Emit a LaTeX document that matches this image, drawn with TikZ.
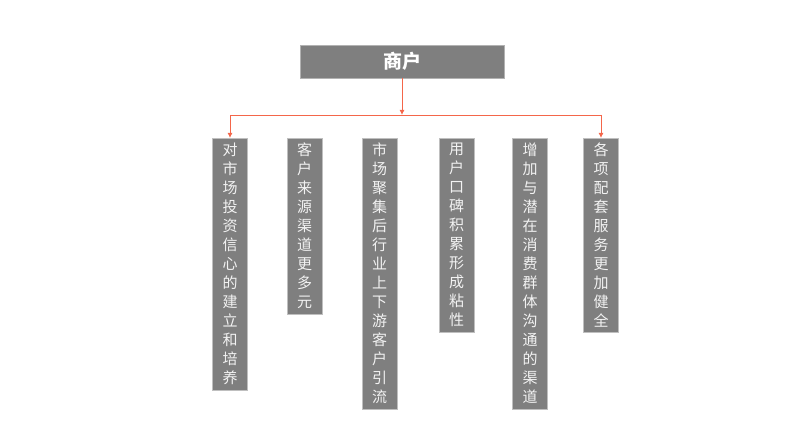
\documentclass[tikz,border=0pt]{standalone}
\usepackage{fontspec}
\newfontfamily\cjk{Noto Sans CJK SC}
\usepackage{tikz}
\usetikzlibrary{arrows.meta}

\definecolor{boxgray}{HTML}{7F7F7F}
\definecolor{linkred}{HTML}{F4664A}

\begin{document}
\begin{tikzpicture}[x=1pt,y=1pt,
    topbox/.style={fill=boxgray,draw=boxgray!60,text=white,minimum width=204pt,minimum height=33pt,font=\cjk\fontsize{19}{19}\selectfont\bfseries},
    itembox/.style={fill=boxgray,draw=boxgray!50,text=white!95!black,anchor=north,minimum width=35pt,inner xsep=0pt,inner ysep=5pt,align=center,font=\cjk\fontsize{15}{19}\selectfont},
    link/.style={linkred,line width=0.9pt},
    arr/.style={link,-{Latex[length=5pt,width=5pt]}}]
  \useasboundingbox (0,0) rectangle (800,446);
  \node[topbox] (shop) at (402,384.5) {商户};
  % six items under the shop
  \node[itembox] (b1) at (230,308) {对\\市\\场\\投\\资\\信\\心\\的\\建\\立\\和\\培\\养};
  \node[itembox] (b2) at (304.5,308) {客\\户\\来\\源\\渠\\道\\更\\多\\元};
  \node[itembox] (b3) at (379.5,308) {市\\场\\聚\\集\\后\\行\\业\\上\\下\\游\\客\\户\\引\\流};
  \node[itembox] (b4) at (456.5,308) {用\\户\\口\\碑\\积\\累\\形\\成\\粘\\性};
  \node[itembox] (b5) at (530,308) {增\\加\\与\\潜\\在\\消\\费\\群\\体\\沟\\通\\的\\渠\\道};
  \node[itembox] (b6) at (601,308) {各\\项\\配\\套\\服\\务\\更\\加\\健\\全};
  % connectors
  \coordinate (bus) at (402,331);
  \draw[arr] (shop) -- (bus);
  \draw[link] (b1 |- bus) -- (b6 |- bus);
  \draw[arr] (b1 |- bus) -- (b1);
  \draw[arr] (b6 |- bus) -- (b6);
\end{tikzpicture}
\end{document}
